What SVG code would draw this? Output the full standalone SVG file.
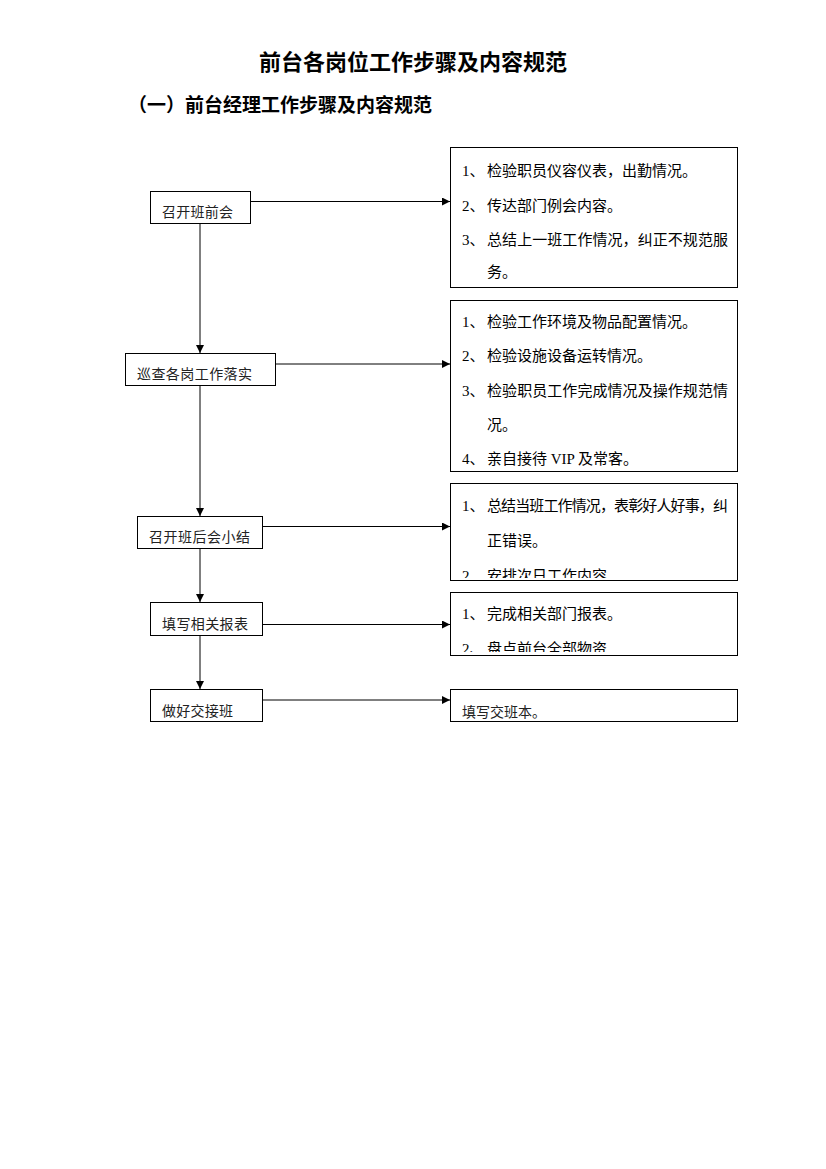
<svg xmlns="http://www.w3.org/2000/svg" width="826" height="1169" viewBox="0 0 826 1169">
<style>
.box{fill:#fff;stroke:#000;stroke-width:1}
.ln{stroke:#000;stroke-width:1;fill:none}
.t{font-family:"Liberation Serif","Noto Sans CJK SC",serif;fill:#000}
.s{font-size:14px;fill:#222}
.r{font-size:15px}
.h{font-family:"Noto Sans CJK SC",sans-serif;font-weight:bold;fill:#000}
</style>
<defs>
<marker id="ah" viewBox="0 0 10 10" refX="10" refY="5" markerWidth="8" markerHeight="8" markerUnits="userSpaceOnUse" orient="auto">
<path d="M0,0 L10,5 L0,10 Z" fill="#000"/>
</marker>
<clipPath id="cA"><rect x="450" y="147" width="288" height="141"/></clipPath>
<clipPath id="cB"><rect x="450" y="300" width="288" height="172"/></clipPath>
<clipPath id="cC"><rect x="450" y="483" width="288" height="95"/></clipPath>
<clipPath id="cD"><rect x="450" y="592" width="288" height="60"/></clipPath>
<clipPath id="cE"><rect x="450" y="689" width="288" height="30"/></clipPath>
</defs>
<rect width="826" height="1169" fill="#fff"/>
<text class="h" x="413" y="70" font-size="22" text-anchor="middle">前台各岗位工作步骤及内容规范</text>
<text class="h" x="128" y="112" font-size="19">（一）前台经理工作步骤及内容规范</text>

<g id="connectors">
<line class="ln" x1="200" y1="223" x2="200" y2="353" marker-end="url(#ah)"/>
<line class="ln" x1="200" y1="385" x2="200" y2="516" marker-end="url(#ah)"/>
<line class="ln" x1="200" y1="548" x2="200" y2="602" marker-end="url(#ah)"/>
<line class="ln" x1="200" y1="635" x2="200" y2="689" marker-end="url(#ah)"/>
<line class="ln" x1="250" y1="201.5" x2="450" y2="201.5" marker-end="url(#ah)"/>
<line class="ln" x1="276" y1="364" x2="450" y2="364" marker-end="url(#ah)"/>
<line class="ln" x1="263" y1="526.5" x2="450" y2="526.5" marker-end="url(#ah)"/>
<line class="ln" x1="263" y1="624.5" x2="450" y2="624.5" marker-end="url(#ah)"/>
<line class="ln" x1="263" y1="700" x2="450" y2="700" marker-end="url(#ah)"/>
</g>

<g id="n1">
<rect class="box" x="150.5" y="191.5" width="100" height="32"/>
<text class="t s" x="162" y="217" textLength="71">召开班前会</text>
</g>
<g id="n2">
<rect class="box" x="125.5" y="353.5" width="150" height="32"/>
<text class="t s" x="137" y="379" textLength="115">巡查各岗工作落实</text>
</g>
<g id="n3">
<rect class="box" x="137.5" y="516.5" width="125" height="32"/>
<text class="t s" x="149" y="542" textLength="101">召开班后会小结</text>
</g>
<g id="n4">
<rect class="box" x="150.5" y="602.5" width="112" height="33"/>
<text class="t s" x="162" y="629" textLength="86">填写相关报表</text>
</g>
<g id="n5">
<rect class="box" x="150.5" y="689.5" width="112" height="32"/>
<text class="t s" x="162" y="716" textLength="71">做好交接班</text>
</g>

<g id="rA">
<rect class="box" x="450.5" y="147.5" width="287" height="140"/>
<g class="t r" clip-path="url(#cA)">
<text x="462" y="176">1、</text><text x="487" y="176">检验职员仪容仪表，出勤情况。</text>
<text x="462" y="211">2、</text><text x="487" y="211">传达部门例会内容。</text>
<text x="462" y="245">3、</text><text x="487" y="245" textLength="241">总结上一班工作情况，纠正不规范服</text>
<text x="487" y="277">务。</text>
</g>
</g>
<g id="rB">
<rect class="box" x="450.5" y="300.5" width="287" height="171"/>
<g class="t r" clip-path="url(#cB)">
<text x="462" y="327">1、</text><text x="487" y="327">检验工作环境及物品配置情况。</text>
<text x="462" y="361">2、</text><text x="487" y="361">检验设施设备运转情况。</text>
<text x="462" y="396">3、</text><text x="487" y="396" textLength="241">检验职员工作完成情况及操作规范情</text>
<text x="487" y="430">况。</text>
<text x="462" y="464">4、</text><text x="487" y="464">亲自接待 VIP 及常客。</text>
</g>
</g>
<g id="rC">
<rect class="box" x="450.5" y="483.5" width="287" height="97"/>
<g class="t r" clip-path="url(#cC)">
<text x="462" y="511">1、</text><text x="487" y="511" textLength="241">总结当班工作情况，表彰好人好事，纠</text>
<text x="487" y="546">正错误。</text>
<text x="462" y="581">2、</text><text x="487" y="581">安排次日工作内容</text>
</g>
</g>
<g id="rD">
<rect class="box" x="450.5" y="592.5" width="287" height="63"/>
<g class="t r" clip-path="url(#cD)">
<text x="462" y="619">1、</text><text x="487" y="619">完成相关部门报表。</text>
<text x="462" y="654">2、</text><text x="487" y="654">盘点前台全部物资</text>
</g>
</g>
<g id="rE">
<rect class="box" x="450.5" y="689.5" width="287" height="32"/>
<g clip-path="url(#cE)">
<text class="t s" x="462" y="717">填写交班本。</text>
</g>
</g>
</svg>
